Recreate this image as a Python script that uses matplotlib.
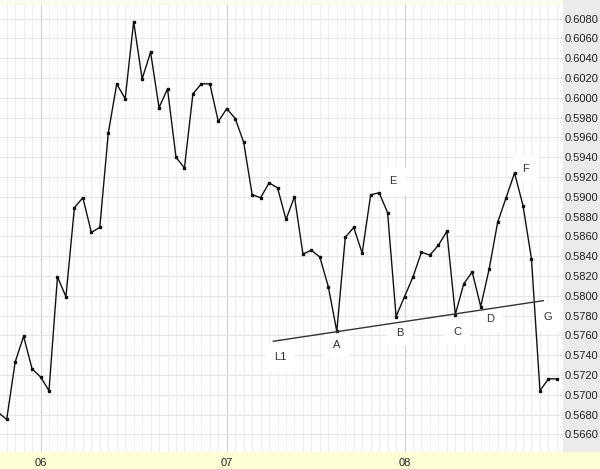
import numpy as np
import matplotlib
matplotlib.use("Agg")
import matplotlib.pyplot as plt
from matplotlib.patches import Rectangle

# price series, one value per period
prices = [0.5682, 0.5675, 0.5733, 0.5759, 0.5726, 0.5718, 0.5704, 0.5819, 0.5799, 0.5889,
          0.5899, 0.5864, 0.5869, 0.5964, 0.6014, 0.5999, 0.6077, 0.6019, 0.6046, 0.5990,
          0.6009, 0.5940, 0.5929, 0.6004, 0.6014, 0.6014, 0.5976, 0.5989, 0.5979, 0.5955,
          0.5902, 0.5899, 0.5914, 0.5909, 0.5877, 0.5900, 0.5842, 0.5846, 0.5839, 0.5809,
          0.5764, 0.5859, 0.5869, 0.5843, 0.5902, 0.5904, 0.5884, 0.5779, 0.5799, 0.5819,
          0.5844, 0.5841, 0.5851, 0.5865, 0.5781, 0.5812, 0.5824, 0.5789, 0.5827, 0.5874,
          0.5899, 0.5924, 0.5891, 0.5837, 0.5704, 0.5716, 0.5716]

year_ticks = [5, 27, 48]
year_labels = ["06", "07", "08"]

# support line L1
trend_x = [32.5, 64.4]
trend_y = [0.5754, 0.5795]

# pattern points: label, index into prices
point_labels = ["A", "B", "C", "D", "E", "F"]
point_idx = [40, 47, 54, 57, 45, 61]

y_ticks = np.arange(0.5660, 0.6081, 0.002)

x = np.arange(len(prices))

fig = plt.figure(figsize=(6, 4.69), dpi=100)
fig.patch.set_facecolor("white")
# right scale panel and bottom date band
fig.patches.append(Rectangle((0.938, 0.036), 0.062, 0.964, transform=fig.transFigure,
                             facecolor="#ebebeb", edgecolor="none", zorder=-5))
fig.patches.append(Rectangle((0, 0), 1, 0.036, transform=fig.transFigure,
                             facecolor="#ffffd6", edgecolor="none", zorder=-5))
fig.patches.append(Rectangle((0, 0.99), 0.938, 0.01, transform=fig.transFigure,
                             facecolor="#fbfbee", edgecolor="none", zorder=-5))

ax = fig.add_axes([0, 0.036, 0.938, 0.954])
ax.set_facecolor("none")
ax.set_xlim(0.21, 66.7)
ax.set_ylim(0.5642, 0.6094)

# grid
for i in x:
    col = "#cfcfcf" if i in year_ticks else "#efefef"
    ax.axvline(i, color=col, lw=0.8, zorder=0)
for v in y_ticks:
    ax.axhline(v, color="#e6e6e6", lw=0.8, zorder=0)

ax.plot(x, prices, color="#111111", lw=1.0, marker="s", ms=2.0, zorder=3)
ax.plot(trend_x, trend_y, color="#333333", lw=1.0, zorder=3)

font = dict(family="Liberation Sans", size=8, color="#333333")
box = dict(boxstyle="square,pad=0.8", facecolor="white", edgecolor="none")

offsets = {"A": (0, -14), "B": (4, -16), "C": (2, -17), "D": (9, -12),
           "E": (14, 12), "F": (11, 4)}
for lab, i in zip(point_labels, point_idx):
    ax.annotate(lab, (x[i], prices[i]), xytext=offsets[lab], textcoords="offset pixels",
                ha="center", va="center", bbox=box, zorder=1.5, **font)
ax.annotate("L1", (trend_x[0], trend_y[0]), xytext=(7, -16), textcoords="offset pixels",
            ha="center", va="center", bbox=box, zorder=1.5, **font)
ax.annotate("G", (trend_x[1], trend_y[1]), xytext=(4, -16), textcoords="offset pixels",
            ha="center", va="center", bbox=box, zorder=1.5, **font)

ax.yaxis.tick_right()
ax.set_yticks(y_ticks)
ax.set_yticklabels(["%.4f" % v for v in y_ticks], fontfamily="Liberation Sans", fontsize=8, color="#222222")
ax.tick_params(axis="y", length=0, pad=1.5)
ax.set_xticks(year_ticks)
ax.set_xticklabels(year_labels, fontfamily="Liberation Sans", fontsize=8, color="#222222")
ax.tick_params(axis="x", length=0, pad=4)
for s in ax.spines.values():
    s.set_visible(False)

fig.savefig("out.png", dpi=100)
